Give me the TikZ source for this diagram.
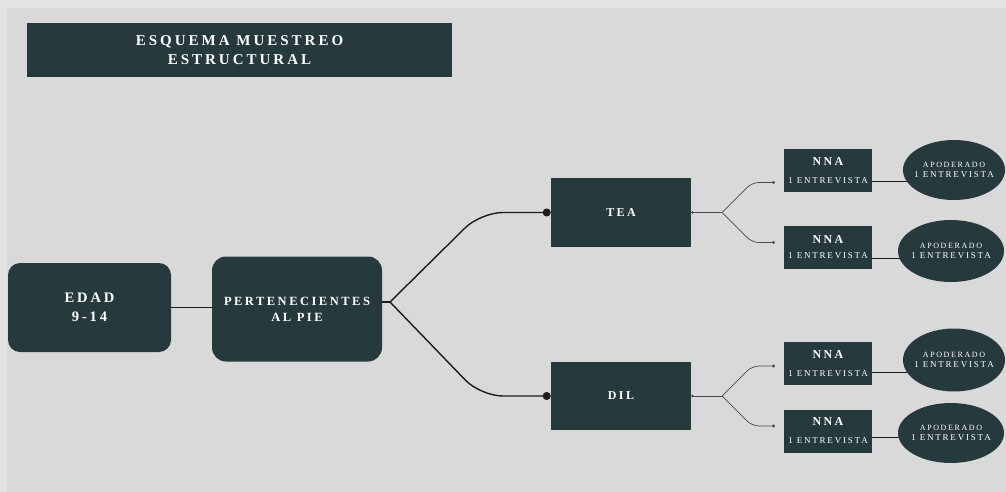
\documentclass[tikz,border=0pt]{standalone}
\usepackage{fontspec}
\setmainfont{Liberation Serif}
\newfontfamily\spacedfont{Liberation Serif}[LetterSpace=20]
\usetikzlibrary{arrows.meta, shapes.geometric, backgrounds}

\definecolor{slate}{HTML}{263A3D}
\definecolor{paper}{HTML}{D9D9D9}
\definecolor{rim}{HTML}{E3E3E3}
\definecolor{wire}{HTML}{1C1C1C}
\definecolor{twiggray}{HTML}{4A4A4A}

\newcommand{\fsize}[2]{\fontsize{#1}{#2}\selectfont}

\begin{document}
\begin{tikzpicture}[
        x = 1pt, y = -1pt,
        > = {Circle[length=8pt]},
        semithick
    ]

    \tikzstyle{block}=[
        fill = slate,
        text = white,
        inner sep = 0pt,
        align = center
    ]
    \tikzstyle{nnabox}=[block, minimum width = 88pt, minimum height = 43pt, font = \spacedfont\fsize{12}{14}]
    \tikzstyle{oval}=[block, ellipse, inner xsep = -10pt, font = \spacedfont\fsize{8}{10}]
    \tikzstyle{trunk}=[draw = wire, line width = 1.4pt]
    \tikzstyle{twig}=[draw = twiggray, line width = 0.7pt]

    % main blocks
    \node[block, minimum width = 425pt, minimum height = 54pt,
          font = \spacedfont\bfseries\fsize{15}{19}] (title) at (239.5,50) {ESQUEMA MUESTREO\\ESTRUCTURAL};
    \node[block, rounded corners = 12pt, minimum width = 163pt, minimum height = 89pt,
          font = \spacedfont\bfseries\fsize{14.5}{19}] (edad) at (89.5,307.5) {EDAD\\9-14};
    \node[block, rounded corners = 14pt, minimum width = 170pt, minimum height = 105pt,
          font = \spacedfont\bfseries\fsize{12.5}{16}] (pie) at (297,309) {PERTENECIENTES\\AL PIE};
    \node[block, minimum width = 140pt, minimum height = 69pt,
          font = \spacedfont\bfseries\fsize{12}{14}] (tea) at (621,212.5) {TEA};
    \node[block, minimum width = 140pt, minimum height = 68pt,
          font = \spacedfont\bfseries\fsize{12}{14}] (dil) at (621,396) {DIL};

    % NNA boxes
    \node[nnabox] (nna1) at (828,170.5) {\bfseries NNA\\[4pt]{\fsize{9}{10}1 ENTREVISTA}};
    \node[nnabox] (nna2) at (828,247) {\bfseries NNA\\[1pt]{\fsize{9}{10}1 ENTREVISTA}};
    \node[nnabox] (nna3) at (828,363.5) {\bfseries NNA\\[4pt]{\fsize{9}{10}1 ENTREVISTA}};
    \node[nnabox] (nna4) at (828,431) {\bfseries NNA\\[4pt]{\fsize{9}{10}1 ENTREVISTA}};

    % apoderados
    \node[oval, minimum width = 102pt, minimum height = 60pt] (ap1) at (954,170) {APODERADO\\{\fsize{9}{10}1 ENTREVISTA}};
    \node[oval, minimum width = 106pt, minimum height = 62pt] (ap2) at (951,251) {APODERADO\\{\fsize{9}{10}1 ENTREVISTA}};
    \node[oval, minimum width = 102pt, minimum height = 63pt] (ap3) at (954,360) {APODERADO\\{\fsize{9}{10}1 ENTREVISTA}};
    \node[oval, minimum width = 106pt, minimum height = 60pt] (ap4) at (951,433) {APODERADO\\{\fsize{9}{10}1 ENTREVISTA}};

    % forks and free ends
    \coordinate (forkA) at (390,302);
    \coordinate (forkT) at (722,212.5);
    \coordinate (forkD) at (722,396);
    \coordinate (tipT1) at (775,182.5);
    \coordinate (tipT2) at (775,242.5);
    \coordinate (tipD1) at (775,366);
    \coordinate (tipD2) at (775,426);
    \coordinate (l1) at ([yshift=-11pt]nna1.east);
    \coordinate (l2) at ([yshift=-11pt]nna2.east);
    \coordinate (l3) at ([yshift=-9pt]nna3.east);
    \coordinate (l4) at ([yshift=-6pt]nna4.east);

    \begin{scope}[on background layer]
        \fill[rim] (0,0) rectangle (1006,492);
        \fill[paper] (7,8) rectangle (1006,492);

        \draw[trunk] (edad) -- (pie.west |- edad);
        \draw[trunk] (pie.east |- forkA) -- (forkA);
        \draw[trunk, ->, rounded corners = 22pt] (forkA) -- ([xshift=-70pt]tea.west) -- (tea.west);
        \draw[trunk, ->, rounded corners = 22pt] (forkA) -- ([xshift=-70pt]dil.west) -- (dil.west);

        \draw[twig, {Circle[length=2.5pt]}-] (tea.east) -- (forkT);
        \draw[twig, {Circle[length=2.5pt]}-] (dil.east) -- (forkD);
        \draw[twig, -{Circle[length=3pt]}, rounded corners = 7pt] (forkT) -- ++(30,-30) -- (tipT1);
        \draw[twig, -{Circle[length=3pt]}, rounded corners = 7pt] (forkT) -- ++(30,30) -- (tipT2);
        \draw[twig, -{Circle[length=3pt]}, rounded corners = 7pt] (forkD) -- ++(30,-30) -- (tipD1);
        \draw[twig, -{Circle[length=3pt]}, rounded corners = 7pt] (forkD) -- ++(30,30) -- (tipD2);

        \draw[trunk, line width = 1pt] (l1) -- (l1 -| ap1);
        \draw[trunk, line width = 1pt] (l2) -- (l2 -| ap2);
        \draw[trunk, line width = 1pt] (l3) -- (l3 -| ap3);
        \draw[trunk, line width = 1pt] (l4) -- (l4 -| ap4);
    \end{scope}
\end{tikzpicture}
\end{document}
